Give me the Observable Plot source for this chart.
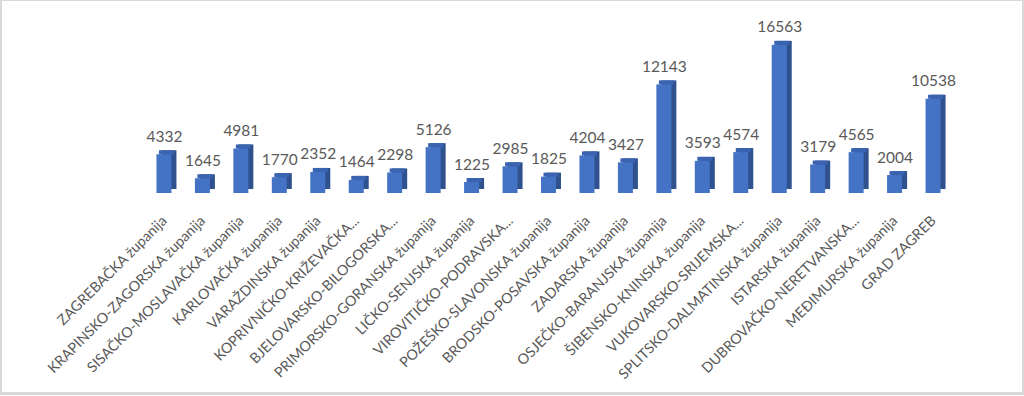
<!DOCTYPE html>
<html>
<head>
<meta charset="utf-8">
<script src="https://cdn.jsdelivr.net/npm/d3@7"></script>
<script src="https://cdn.jsdelivr.net/npm/@observablehq/plot@0.6"></script>
<style>
  html, body { margin: 0; padding: 0; background: #fff; }
  #wrap { position: relative; width: 1024px; height: 396px; overflow: hidden; }
  #wrap svg { position: absolute; left: 0; top: 0; }
  #frame { position: absolute; left: 0; top: 0; width: 1024px; height: 395px; box-sizing: border-box;
           border-style: solid; border-color: #d9d9d9; border-width: 1px 2px 3px 2px; pointer-events: none; }
</style>
</head>
<body>
<div id="wrap"><div id="frame"></div></div>
<script>
const counties = [
  "ZAGREBAČKA županija",
  "KRAPINSKO-ZAGORSKA županija",
  "SISAČKO-MOSLAVAČKA županija",
  "KARLOVAČKA županija",
  "VARAŽDINSKA županija",
  "KOPRIVNIČKO-KRIŽEVAČKA...",
  "BJELOVARSKO-BILOGORSKA...",
  "PRIMORSKO-GORANSKA županija",
  "LIČKO-SENJSKA županija",
  "VIROVITIČKO-PODRAVSKA...",
  "POŽEŠKO-SLAVONSKA županija",
  "BRODSKO-POSAVSKA županija",
  "ZADARSKA županija",
  "OSJEČKO-BARANJSKA županija",
  "ŠIBENSKO-KNINSKA županija",
  "VUKOVARSKO-SRIJEMSKA...",
  "SPLITSKO-DALMATINSKA županija",
  "ISTARSKA županija",
  "DUBROVAČKO-NERETVANSKA...",
  "MEĐIMURSKA županija",
  "GRAD ZAGREB"
];
const values = [4332, 1645, 4981, 1770, 2352, 1464, 2298, 5126, 1225, 2985, 1825, 4204, 3427, 12143, 3593, 4574, 16563, 3179, 4565, 2004, 10538];

const data = counties.map((c, i) => ({county: c, value: values[i]}));

const frontColor = "#4472c4";
const sideColor = "#2f528f";
const topColor = "#3a64b2";
const textColor = "#595959";

const chart = Plot.plot({
  width: 1024,
  height: 396,
  marginLeft: 133,
  marginRight: 60,
  marginTop: 32,
  marginBottom: 203,
  style: {fontFamily: "Lato, 'Open Sans', sans-serif", fontSize: "14.3px", color: textColor, background: "transparent"},
  x: {domain: counties, padding: 0.61, round: false, tickRotate: -45, tickSize: 0, tickPadding: 25, label: null},
  y: {domain: [0, 18000], axis: null},
  marks: [
    // side (depth) of the 3D column
    Plot.barY(data, {x: "county", y: "value", fill: sideColor, dx: 5, dy: -4}),
    // top face
    Plot.rect(data, {x: "county", y1: "value", y2: "value", fill: topColor, insetTop: -4, dx: 2.5}),
    // front face
    Plot.barY(data, {x: "county", y: "value", fill: frontColor}),
    // value labels
    Plot.text(data, {x: "county", y: "value", text: d => String(d.value), dy: -13, lineAnchor: "bottom",
                     fill: textColor, fontSize: 15.5})
  ]
});
document.getElementById("wrap").insertBefore(chart, document.getElementById("frame"));
</script>
</body>
</html>
